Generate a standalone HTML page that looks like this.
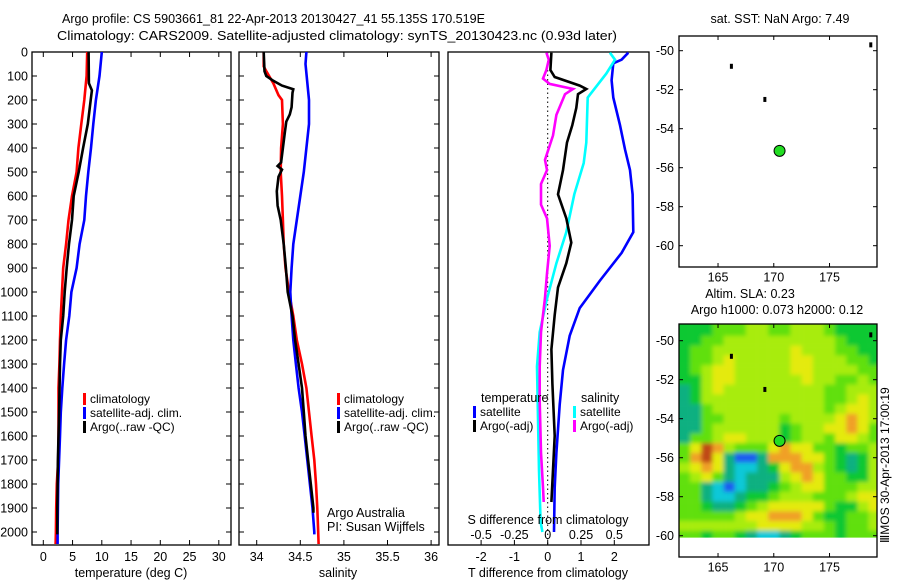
<!DOCTYPE html>
<html><head><meta charset="utf-8"><style>
html,body{margin:0;padding:0;background:#fff;}
svg{display:block;font-family:"Liberation Sans",sans-serif;}
</style></head><body>
<svg id="chart" width="900" height="580" viewBox="0 0 900 580" xmlns="http://www.w3.org/2000/svg">
<defs><filter id="blur" x="-5%" y="-5%" width="110%" height="110%"><feGaussianBlur stdDeviation="2"/></filter></defs>
<text x="62" y="23" font-size="13" textLength="423" lengthAdjust="spacingAndGlyphs">Argo profile: CS 5903661_81 22-Apr-2013 20130427_41 55.135S 170.519E</text>
<text x="57" y="40" font-size="13" textLength="560" lengthAdjust="spacingAndGlyphs">Climatology: CARS2009. Satellite-adjusted climatology: synTS_20130423.nc (0.93d later)</text>
<g id="g"></g>
<text transform="translate(889,543) rotate(-90)" font-size="12">ⅢMOS 30-Apr-2013 17:00:19</text>
</svg>
<script>
// ---- data ----
const tDepth=[0,100,200,300,400,500,600,700,800,900,1000,1100,1200,1300,1400,1500,1600,1700,1800,1900,2000,2050];
const tClim=[7.5,7.4,7.0,6.5,6.0,5.7,4.9,4.3,3.9,3.4,3.2,3.0,2.85,2.75,2.6,2.6,2.6,2.55,2.3,2.2,2.15,2.1];
const tSat=[10.0,9.6,9.0,8.55,8.15,7.7,7.3,7.0,6.2,5.7,4.8,4.45,3.9,3.55,3.25,3.0,2.85,2.7,2.55,2.5,2.45,2.45];
const tArgoDepth=[0,130,160,200,300,400,500,600,700,800,900,1000,1100,1200,1300,1500,1700,1900,2010];
const tArgo=[7.75,7.8,8.3,8.1,7.6,6.8,6.05,5.2,4.9,4.4,4.0,3.65,3.4,3.0,2.85,2.7,2.5,2.4,2.4];
const sDepth=[0,60,80,130,180,200,300,400,500,600,700,800,900,1000,1100,1200,1300,1400,1500,1600,1700,1800,1900,2000,2050];
const sClim=[34.08,34.08,34.11,34.19,34.25,34.29,34.30,34.28,34.275,34.29,34.30,34.31,34.33,34.37,34.42,34.46,34.52,34.57,34.60,34.63,34.66,34.68,34.695,34.705,34.71];
const sSatDepth=[0,50,200,300,400,500,600,700,800,900,1000,1100,1200,1300,1400,1500,1600,1700,1800,1900,2000,2010];
const sSat=[34.57,34.56,34.60,34.60,34.57,34.54,34.50,34.46,34.42,34.40,34.385,34.40,34.42,34.45,34.48,34.52,34.55,34.58,34.61,34.64,34.66,34.66];
const sArgoDepth=[0,80,100,120,140,155,170,230,260,290,330,400,460,475,490,520,580,640,700,800,900,1000,1100,1200,1300,1400,1500,1600,1700,1800,1900,1920];
const sArgo=[34.08,34.09,34.11,34.19,34.29,34.42,34.41,34.40,34.38,34.34,34.325,34.30,34.28,34.24,34.29,34.25,34.23,34.24,34.275,34.31,34.335,34.355,34.41,34.44,34.48,34.52,34.54,34.56,34.59,34.62,34.65,34.65];
const dTSatDepth=[3,32,47,118,190,305,406,492,593,751,837,952,1067,1182,1325,1469,1670,1814,2000];
const dTSat=[2.42,2.22,1.97,1.92,1.97,2.17,2.32,2.47,2.55,2.57,2.22,1.57,0.96,0.66,0.46,0.36,0.26,0.21,0.19];
const dTArgoDepth=[3,75,104,140,154,176,233,305,377,492,593,693,794,880,981,1096,1239,1383,1599,1742,1875];
const dTArgo=[0.11,0.08,0.21,0.96,1.16,0.91,0.86,0.74,0.58,0.46,0.31,0.56,0.71,0.56,0.31,0.21,0.11,0.14,0.21,0.16,0.11];
const dSSatDepth=[3,32,90,176,190,377,463,593,751,880,1038,1167,1311,1527,1742,1958,2000];
const dSSat=[0.467,0.505,0.44,0.32,0.30,0.29,0.27,0.20,0.14,0.065,-0.01,-0.06,-0.08,-0.073,-0.065,-0.053,-0.04];
const dSArgoDepth=[3,32,75,111,133,154,176,262,348,449,492,550,636,693,808,923,1024,1167,1311,1455,1670,1814,1875];
const dSArgo=[-0.01,0.008,-0.01,-0.035,0.015,0.19,0.13,0.065,0.04,-0.02,-0.005,-0.05,-0.05,-0.005,0.015,-0.005,-0.02,-0.05,-0.06,-0.06,-0.05,-0.035,-0.03];
const depthTicks=[0,100,200,300,400,500,600,700,800,900,1000,1100,1200,1300,1400,1500,1600,1700,1800,1900,2000];
const tTicks=[0,5,10,15,20,25,30];
const sTicks=["34","34.5","35","35.5","36"];
const dTTicks=["-2","-1","0","1","2"];
const dSTicks=["-0.5","-0.25","0","0.25","0.5"];
const latTicks=[-50,-52,-54,-56,-58,-60];
const lonTicks=[165,170,175];
const floatLon=[166.2,169.2,178.7];
const floatLat=[-50.8,-52.5,-49.7];
const profLon=[170.519];
const profLat=[-55.135];
const slaRows=[
"333444554455543333","334455555555554333","344555555565554433","344565555566555443",
"345665555566555544","335665555556554454","235655555555544555","235555555555544565",
"224555555555545665","224455555455556765","224555555345566764","244566555345546654",
"468754446766443445","478620027776643235","567621123677543235","456421222567644335",
"442101223456644455","442112334555444566","443223456666643356","444445667776433445",
"555555566665543445","443443211234443444"];
const palette=["#1c5cf0","#10c8d8","#10b080","#10c830","#60e010","#a8ec08","#e4ea10","#f0a028","#c04818"];

// ---- helpers ----
const NS="http://www.w3.org/2000/svg";
const G=document.getElementById('g');
function el(tag,attrs,parent){const e=document.createElementNS(NS,tag);for(const k in attrs)e.setAttribute(k,attrs[k]);(parent||G).appendChild(e);return e;}
const yD=d=>52+d*0.24;
const xT=t=>43.3+t*5.85;
const xS=s=>256.7+(s-34)*87.2;
const xDT=v=>547.7+v*33.3;
const xDS=v=>547.7+v*133.2;
const xLon=l=>679+(l-161.5)*11.15;
const yLatTop=l=>50.7+(-50-l)*19.5;
const yLatBot=l=>340.7+(-50-l)*19.5;
function txt(x,y,s,name,anchor,size){const t=el('text',{x:x,y:y,'font-size':size||12,'text-anchor':anchor||'start'});t.textContent=s;


return t;}
function line(xs,ys,color,name){let d='';for(let i=0;i<xs.length;i++){d+=(i?'L':'M')+xs[i].toFixed(1)+','+ys[i].toFixed(1);}
const p=el('path',{d:d,fill:'none',stroke:color,'stroke-width':2.6,'stroke-linejoin':'miter'});


return p;}
function box(x0,y0,x1,y1,name){const r=el('rect',{x:x0,y:y0,width:x1-x0,height:y1-y0,fill:'none',stroke:'#000','stroke-width':1.3});

}
function tick(x1,y1,x2,y2){const t=el('line',{x1:x1,y1:y1,x2:x2,y2:y2,stroke:'#000','stroke-width':1});

}
function legend(x,y,color,label,name){const r=el('rect',{x:x,y:y-10,width:3,height:12,fill:color});


txt(x+7,y,label,name);}

// ---- panel 1: temperature ----
box(32,52,231,545,'temperature-panel');
depthTicks.forEach(d=>{tick(32,yD(d),37,yD(d));tick(226,yD(d),231,yD(d));txt(28,yD(d)+4.5,String(d),'depth-tick-label','end',12.5);});
tTicks.forEach(t=>{tick(xT(t),545,xT(t),540);tick(xT(t),52,xT(t),57);txt(xT(t),561,String(t),'temperature-tick-label','middle',12.5);});
txt(131,577,'temperature (deg C)','temperature-axis-title','middle',12.5);
line(tClim.map(xT),tDepth.map(yD),'#ff0000','temperature-climatology-line');
line(tSat.map(xT),tDepth.map(yD),'#0000ff','temperature-satellite-line');
line(tArgo.map(xT),tArgoDepth.map(yD),'#000000','temperature-argo-line');
legend(83,403,'#ff0000','climatology','legend-climatology');
legend(83,417,'#0000ff','satellite-adj. clim.','legend-satellite');
legend(83,431,'#000000','Argo(..raw -QC)','legend-argo');

// ---- panel 2: salinity ----
box(239,52,439,545,'salinity-panel');
depthTicks.forEach(d=>{tick(239,yD(d),244,yD(d));tick(434,yD(d),439,yD(d));});
sTicks.forEach(s=>{const x=xS(parseFloat(s));tick(x,545,x,540);tick(x,52,x,57);txt(x,561,s,'salinity-tick-label','middle',12.5);});
txt(338,577,'salinity','salinity-axis-title','middle',12.5);
line(sClim.map(xS),sDepth.map(yD),'#ff0000','salinity-climatology-line');
line(sSat.map(xS),sSatDepth.map(yD),'#0000ff','salinity-satellite-line');
line(sArgo.map(xS),sArgoDepth.map(yD),'#000000','salinity-argo-line');
legend(337,403,'#ff0000','climatology','legend-climatology-s');
legend(337,417,'#0000ff','satellite-adj. clim.','legend-satellite-s');
legend(337,431,'#000000','Argo(..raw -QC)','legend-argo-s');
txt(327,517,'Argo Australia','credit-line-1','start',12.5);
txt(327,531,'PI: Susan Wijffels','credit-line-2','start',12.5);

// ---- panel 3: differences ----
box(448,52,649,545,'difference-panel');
const z=el('line',{x1:xDT(0),y1:52,x2:xDT(0),y2:545,stroke:'#000','stroke-width':1,'stroke-dasharray':'1.5,3'});


dTTicks.forEach(s=>{const x=xDT(parseFloat(s));tick(x,545,x,540);txt(x,561,s,'t-diff-tick-label','middle',12.5);});
txt(548,577,'T difference from climatology','t-diff-axis-title','middle',12.5);
line(dTSat.map(xDT),dTSatDepth.map(yD),'#0000ff','t-diff-satellite-line');
line(dSSat.map(xDS),dSSatDepth.map(yD),'#00ffff','s-diff-satellite-line');
line(dSArgo.map(xDS),dSArgoDepth.map(yD),'#ff00ff','s-diff-argo-line');
line(dTArgo.map(xDT),dTArgoDepth.map(yD),'#000000','t-diff-argo-line');
dSTicks.forEach(s=>{txt(xDS(parseFloat(s)),539,s,'s-diff-tick-label','middle',12.5);});
txt(548,524,'S difference from climatology','s-diff-axis-title','middle',12.5);
txt(481,402,'temperature','legend-temperature-header','start',12.5);
legend(473,416,'#0000ff','satellite','legend-t-satellite');
legend(473,430,'#000000','Argo(-adj)','legend-t-argo');
txt(581,402,'salinity','legend-salinity-header','start',12.5);
legend(573,416,'#00ffff','satellite','legend-s-satellite');
legend(573,430,'#ff00ff','Argo(-adj)','legend-s-argo');

// ---- top map: SST ----
txt(780,23,'sat. SST: NaN Argo: 7.49','sst-map-title','middle',12.5);
box(679,36,877,267,'sst-map');
function mapAxes(yL,top,bot,pfx){
 latTicks.forEach(l=>{tick(679,yL(l),683,yL(l));tick(873,yL(l),877,yL(l));txt(674,yL(l)+4.5,String(l),pfx+'-lat-label','end',12.5);});
 lonTicks.forEach(l=>{tick(xLon(l),bot,xLon(l),bot-4);tick(xLon(l),top,xLon(l),top+4);txt(xLon(l),bot+14.5,String(l),pfx+'-lon-label','middle',12.5);});
}
mapAxes(yLatTop,36,267,'sst');
function markers(yL,pfx){
 floatLon.forEach((l,i)=>{const c=el('rect',{x:xLon(l)-1.5,y:yL(floatLat[i])-2.5,width:3,height:5,fill:'#000'});
 
 });
 profLon.forEach((l,i)=>{const c=el('circle',{cx:xLon(l),cy:yL(profLat[i]),r:5.5,fill:'#22dd22',stroke:'#000','stroke-width':1});
 
 });
}
markers(yLatTop,'sst');

// ---- bottom map: SLA ----
txt(750,298,'Altim. SLA: 0.23','sla-map-title','middle',12.5);
txt(777,314,'Argo h1000: 0.073 h2000: 0.12','sla-map-subtitle','middle',12.5);
const cp=el('clipPath',{id:'slaclip'});
el('rect',{x:679,y:324,width:198,height:yLatBot(-60.1)-324},cp);
const hc=el('g',{'clip-path':'url(#slaclip)'});


const hg=el('g',{filter:'url(#blur)'},hc);
const nR=slaRows.length,nC=slaRows[0].length;
for(let j=-2;j<nR+2;j++){for(let i=-2;i<nC+2;i++){
 const jj=Math.max(0,Math.min(nR-1,j)), ii=Math.max(0,Math.min(nC-1,i));
 const lon0=161.5+i, lat0=-49.25-0.5*j;
 const r=el('rect',{x:xLon(lon0),y:yLatBot(lat0),width:11.4,height:10,fill:palette[+slaRows[jj][ii]]},hg);
 
 
}}
box(679,324,877,557,'sla-map');
mapAxes(yLatBot,324,557,'sla');
markers(yLatBot,'sla');
</script>
</body></html>
